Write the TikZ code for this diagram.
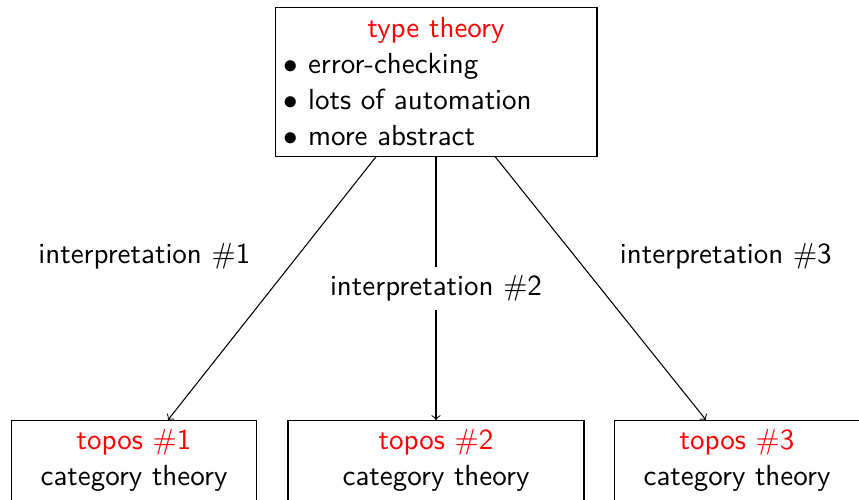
\documentclass[tikz,border=0pt]{standalone}
\usepackage{tikz}
\usetikzlibrary{positioning}
\tikzset{theorybox/.style={rectangle, draw=black, font=\sffamily\fontsize{10.95pt}{13.6pt}\selectfont},
  toposbox/.style={theorybox, anchor=north, align=center, text depth=22pt},
  arrowlabel/.style={font=\sffamily\fontsize{10.95pt}{13.6pt}\selectfont},}

\begin{document}
\begin{tikzpicture}[x=0.3774pt, y=-0.3774pt]
\useasboundingbox (0,0) rectangle (859,499);
\clip (0,0) rectangle (859,499);
\node [theorybox, minimum width=121.5pt, minimum height=55.9pt, text width=114.8pt] (tt) at (436,82)
  {\centering\textcolor{red}{type theory}\par\raggedright
   $\bullet$ error-checking\par
   $\bullet$ lots of automation\par
   $\bullet$ more abstract\par};
\node [toposbox, minimum width=92.8pt] (t1) at (134,420) {\textcolor{red}{topos $\#$1}\\category theory};
\node [toposbox, minimum width=111.7pt] (t2) at (436,420) {\textcolor{red}{topos $\#$2}\\category theory};
\node [toposbox, minimum width=92.5pt] (t3) at (737,420) {\textcolor{red}{topos $\#$3}\\category theory};
\draw[->] ([xshift=-22.6pt]tt.south) -- node[arrowlabel, pos=0.38, left=14.1pt] {interpretation $\#$1} ([xshift=12.8pt]t1.north);
\draw[->] (tt.south) -- node[arrowlabel, fill=white] {interpretation $\#$2} (t2.north);
\draw[->] ([xshift=22.3pt]tt.south) -- node[arrowlabel, pos=0.38, right=13.3pt] {interpretation $\#$3} ([xshift=-11.7pt]t3.north);
\end{tikzpicture}
\end{document}
